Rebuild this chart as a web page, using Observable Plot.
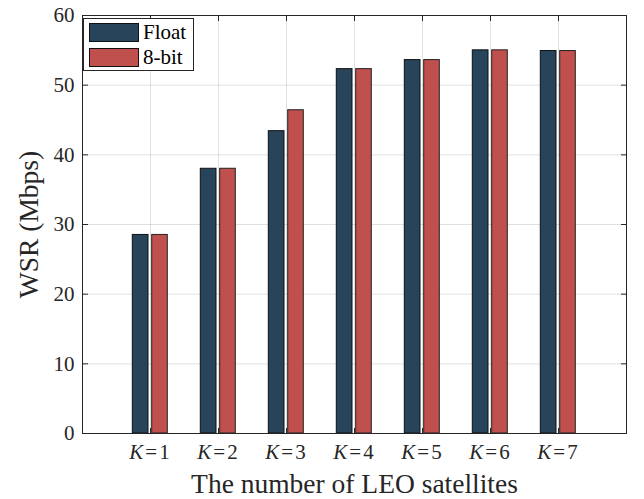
<!DOCTYPE html>
<html>
<head>
<meta charset="utf-8">
<script src="https://cdn.jsdelivr.net/npm/d3@7"></script>
<script src="https://cdn.jsdelivr.net/npm/@observablehq/plot@0.6"></script>
<style>
  html, body { margin: 0; padding: 0; background: #fff; }
  #wrap { position: relative; width: 644px; height: 499px; font-family: "Liberation Serif", serif; }
  #wrap svg, #wrap svg text { font-family: "Liberation Serif", serif !important; }
  g[aria-label="y-axis label"], g[aria-label="x-axis label"] { font-size: 27.5px; }
  g[aria-label="x-axis tick label"] text { letter-spacing: 2px; }
  #legend { position: absolute; left: 83px; top: 18px; width: 111px; height: 53px; border: 1px solid #262626; background: #fff; box-sizing: border-box; font-size: 21px; }
  #legend .row { position: absolute; left: 5px; height: 19px; display: flex; align-items: center; }
  #legend .sw { width: 50px; height: 19px; border: 1px solid #111; box-sizing: border-box; margin-right: 4px; }
</style>
</head>
<body>
<div id="wrap"></div>
<script>
const categories = ["K=1", "K=2", "K=3", "K=4", "K=5", "K=6", "K=7"];
const seriesNames = ["Float", "8-bit"];
const floatWSR = [28.5, 38.0, 43.4, 52.3, 53.6, 55.0, 54.9];
const bit8WSR = [28.5, 38.0, 46.4, 52.3, 53.6, 55.0, 54.9];
const yTicks = [0, 10, 20, 30, 40, 50, 60];
const colors = ["#27445b", "#c0504d"];
const serif = "Liberation Serif";

const rows = categories.map((k, i) => ({k, float: floatWSR[i], bit8: bit8WSR[i]}));

const chart = Plot.plot({
  width: 644,
  height: 499,
  marginLeft: 82,
  marginRight: 18,
  marginTop: 15,
  marginBottom: 66,
  style: "font-family: 'Liberation Serif', serif; font-size: 21px; background: #fff; color: #262626;",
  x: {type: "band", domain: categories, paddingInner: 0, paddingOuter: 0.5},
  y: {domain: [0, 60]},
  marks: [
    Plot.gridX({stroke: "#000", strokeOpacity: 0.12}),
    Plot.gridY({ticks: yTicks, stroke: "#000", strokeOpacity: 0.12}),
    Plot.barY(rows, {x: "k", y: "float", fill: colors[0], stroke: "#111", strokeWidth: 1, insetLeft: 16.3, insetRight: 36}),
    Plot.barY(rows, {x: "k", y: "bit8", fill: colors[1], stroke: "#222", strokeWidth: 1, insetLeft: 35.7, insetRight: 16.7}),
    Plot.frame({stroke: "#262626", strokeWidth: 1}),
    Plot.axisY({ticks: yTicks, tickSize: -6, tickPadding: 14, fontSize: 21, fontFamily: serif, label: "WSR (Mbps)", labelAnchor: "center", labelArrow: "none", labelOffset: 64, stroke: "#262626"}),
    Plot.axisY({anchor: "right", ticks: yTicks, tickSize: -6, tickFormat: () => "", label: null, stroke: "#262626"}),
    Plot.axisX({tickSize: -5, tickPadding: 16, fontSize: 21, fontFamily: serif, label: "The number of LEO satellites", labelAnchor: "center", labelArrow: "none", labelOffset: 59, stroke: "#262626"}),
    Plot.axisX({anchor: "top", tickSize: -5, tickFormat: () => "", label: null, stroke: "#262626"})
  ]
});

// italic K in tick labels
d3.select(chart).selectAll('g[aria-label="x-axis tick label"] text').each(function() {
  const el = d3.select(this);
  const t = el.text();
  if (!t.includes("=")) return;
  const parts = t.split("=");
  el.text(null);
  el.append("tspan").attr("font-style", "italic").text(parts[0]);
  el.append("tspan").text("=" + parts[1]);
});

const wrap = document.getElementById("wrap");
wrap.appendChild(chart);

const legend = document.createElement("div");
legend.id = "legend";
seriesNames.forEach((name, i) => {
  const row = document.createElement("div");
  row.className = "row";
  row.style.top = (4 + i * 25) + "px";
  const sw = document.createElement("div");
  sw.className = "sw";
  sw.style.background = colors[i];
  const lab = document.createElement("span");
  lab.textContent = name;
  row.appendChild(sw);
  row.appendChild(lab);
  legend.appendChild(row);
});
wrap.appendChild(legend);
</script>
</body>
</html>
